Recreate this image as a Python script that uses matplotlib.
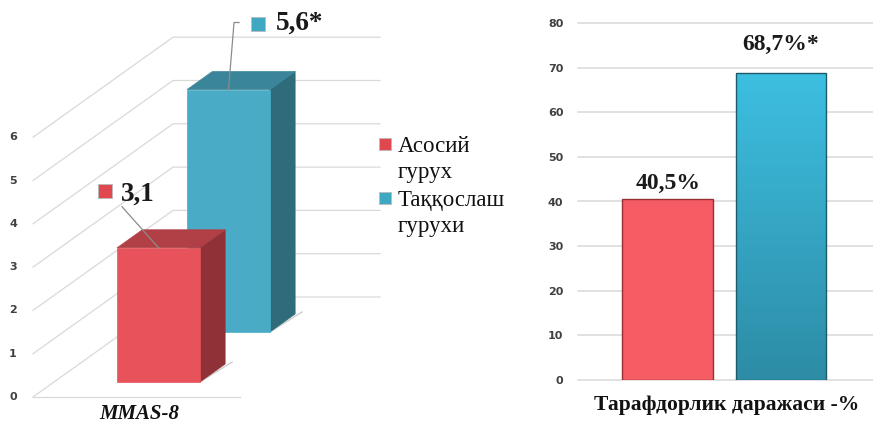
import numpy as np
import matplotlib
matplotlib.use("Agg")
import matplotlib.pyplot as plt
from matplotlib.patches import Polygon, Rectangle
from matplotlib.transforms import ScaledTranslation
from matplotlib.colors import LinearSegmentedColormap

W, H, DPI = 873, 423, 100

# ---- data ----
groups = ["Асосий\nгурух", "Таққослаш\nгурухи"]
mmas_values = [3.1, 5.6]
mmas_labels = ["3,1", "5,6*"]
mmas_ticks = [0, 1, 2, 3, 4, 5, 6]
mmas_category = "MMAS-8"

adherence_values = [40.5, 68.7]
adherence_labels = ["40,5%", "68,7%*"]
adherence_ticks = [0, 10, 20, 30, 40, 50, 60, 70, 80]
adherence_category = "Тарафдорлик даражаси -%"

# ---- styles ----
SERIF = ["Liberation Serif", "DejaVu Serif"]
SANS = ["DejaVu Sans"]
face_front = ["#E8525A", "#4AABC6"]
face_top = ["#B13F46", "#3A8599"]
face_side = ["#8F3137", "#2F6C7B"]
marker_col = ["#E0474F", "#3FA9C4"]
grid_col = "#D9D9D9"
tick_col = "#404040"

fig = plt.figure(figsize=(W / DPI, H / DPI), dpi=DPI)

# =============== left: 3-D column chart (oblique projection) ===============
axL = fig.add_axes([0, 0, 440 / W, 1])
sx, sy = 207.0, 43.3            # pixels per unit along x and per value unit
ox, oy = 33.0, 397.0            # pixel position of the front-left floor corner
axL.set_xlim(-ox / sx, (440 - ox) / sx)
axL.set_ylim((oy - H) / sy, oy / sy)
axL.axis("off")

kx, ky = 140.0 / sx, 100.0 / sy  # shift of the back plane (depth = 1)


def P(x, v, d):
    return (x + d * kx, v + d * ky)


def px_off(pt, dxp, dyp):
    return (pt[0] + dxp / sx, pt[1] + dyp / sy)


# side wall and back wall gridlines
for t in mmas_ticks:
    pts = [P(0, t, 0), P(0, t, 1), P(1, t, 1)]
    axL.plot([p[0] for p in pts], [p[1] for p in pts], color=grid_col, lw=0.9, zorder=1)
    axL.annotate(str(t), P(0, t, 0), xytext=(-20 * 0.72, 0), textcoords="offset points",
                 ha="center", va="center", fontsize=8, fontweight="bold",
                 color=tick_col, family=SANS)
f0, f1 = P(0, 0, 0), P(1, 0, 0)
axL.plot([f0[0], f1[0]], [f0[1], f1[1]], color=grid_col, lw=0.9, zorder=1)

bar_x0, bar_x1 = 0.305, 0.705
depths = [(0.15, 0.33), (0.65, 0.83)]

# draw back series first so the front one overlaps it
for i in [1, 0]:
    h = mmas_values[i]
    d0, d1 = depths[i]
    z = 3 if i == 0 else 2
    # floor shadow
    s0, s1 = P(bar_x1, 0, d0), P(bar_x1 + 0.02, 0, d1 + 0.02)
    axL.plot([s0[0], s1[0]], [s0[1], s1[1]], color="#a0a0a0", lw=1.0, alpha=0.5, zorder=z)
    front = [P(bar_x0, 0, d0), P(bar_x1, 0, d0), P(bar_x1, h, d0), P(bar_x0, h, d0)]
    top = [P(bar_x0, h, d0), P(bar_x1, h, d0), P(bar_x1, h, d1), P(bar_x0, h, d1)]
    side = [P(bar_x1, 0, d0), P(bar_x1, 0, d1), P(bar_x1, h, d1), P(bar_x1, h, d0)]
    for poly, col in [(side, face_side[i]), (top, face_top[i]), (front, face_front[i])]:
        axL.add_patch(Polygon(poly, closed=True, facecolor=col, edgecolor=col,
                              lw=0.5, zorder=z))

# value labels with leader lines
label_cfg = [
    dict(text=(-37.5, 54), marker=(-53.5, 57), leader=[(0, 0), (-36.5, 41)]),
    dict(text=(47.5, 66), marker=(29.5, 66), leader=[(0, 0), (5.5, 67), (10.5, 67)]),
]
for i, h in enumerate(mmas_values):
    d0, _ = depths[i]
    anchor = P((bar_x0 + bar_x1) / 2, h, d0)
    cfg = label_cfg[i]
    lp = [px_off(anchor, dx, dy) for dx, dy in cfg["leader"]]
    axL.plot([p[0] for p in lp], [p[1] for p in lp], color="#8c8c8c", lw=0.9, zorder=5)
    mx, my = cfg["marker"]
    tr = axL.transData + ScaledTranslation(mx / DPI, my / DPI, fig.dpi_scale_trans)
    axL.plot([anchor[0]], [anchor[1]], marker="s", ms=10, mfc=marker_col[i],
             mec="#bbbbbb", mew=0.6, transform=tr, zorder=6)
    tx, ty = cfg["text"]
    axL.annotate(mmas_labels[i], anchor, xytext=(tx * 0.72, ty * 0.72),
                 textcoords="offset points", ha="left", va="center",
                 fontsize=19.5, fontweight="bold", family=SERIF, color="#1a1a1a", zorder=6)

fig.text(139 / W, 1 - 414 / H, mmas_category, ha="center", va="center",
         fontsize=15, fontweight="bold", style="italic", family=SERIF, color="#111111")

# legend
legend_rows = [(144, [152, 178]), (198, [206, 232])]
for i, name in enumerate(groups):
    sq_y, baselines = legend_rows[i]
    fig.patches.append(Rectangle(((379) / W, 1 - (sq_y + 6) / H), 12 / W, 12 / H,
                                 transform=fig.transFigure, facecolor=marker_col[i],
                                 edgecolor="#bbbbbb", lw=0.6))
    for line, base in zip(name.split("\n"), baselines):
        fig.text(398 / W, 1 - base / H, line, ha="left", va="baseline",
                 fontsize=16.5, family=SERIF, color="#111111")

# =============== right: 2-D column chart ===============
axR = fig.add_axes([578 / W, (H - 380) / H, (W - 578) / W, (380 - 23) / H])
xpos = np.arange(len(adherence_values))
width = 0.8

for t in adherence_ticks:
    axR.axhline(t, color=grid_col, lw=1.1, zorder=0, clip_on=False)

# first bar: flat fill
r0 = Rectangle((xpos[0] - width / 2, 0), width, adherence_values[0],
               facecolor="#F65C63", edgecolor="#9A2E35", lw=1.0, zorder=2)
axR.add_patch(r0)

# second bar: vertical gradient fill
r1 = Rectangle((xpos[1] - width / 2, 0), width, adherence_values[1],
               facecolor="none", edgecolor="#1D5A6A", lw=1.0, zorder=3)
axR.add_patch(r1)
cmap = LinearSegmentedColormap.from_list("bluegrad", ["#2D8CA6", "#3DBFE1"])
grad = np.linspace(0, 1, 256).reshape(-1, 1)
im = axR.imshow(grad, cmap=cmap, origin="lower", aspect="auto",
                extent=(xpos[1] - width / 2, xpos[1] + width / 2, 0, adherence_values[1]),
                zorder=2)
im.set_clip_path(r1)

label_pad = [10, 23]
for i, v in enumerate(adherence_values):
    axR.annotate(adherence_labels[i], (xpos[i], v), xytext=(0, label_pad[i] * 0.72),
                 textcoords="offset points", ha="center", va="baseline",
                 fontsize=17, fontweight="bold", family=SERIF, color="#1a1a1a")

axR.set_xlim(-0.79, 1.81)
axR.set_ylim(0, 80)
axR.set_yticks(adherence_ticks)
axR.set_yticklabels([str(t) for t in adherence_ticks], fontsize=8,
                    fontweight="bold", family=SANS, color=tick_col)
axR.tick_params(axis="y", length=0, pad=10.5)
axR.set_xticks([])
for s in axR.spines.values():
    s.set_visible(False)
axR.patch.set_alpha(0)

fig.text(727 / W, 1 - 405 / H, adherence_category, ha="center", va="center",
         fontsize=15.5, fontweight="bold", family=SERIF, color="#111111")

fig.savefig("out.png", dpi=DPI)
